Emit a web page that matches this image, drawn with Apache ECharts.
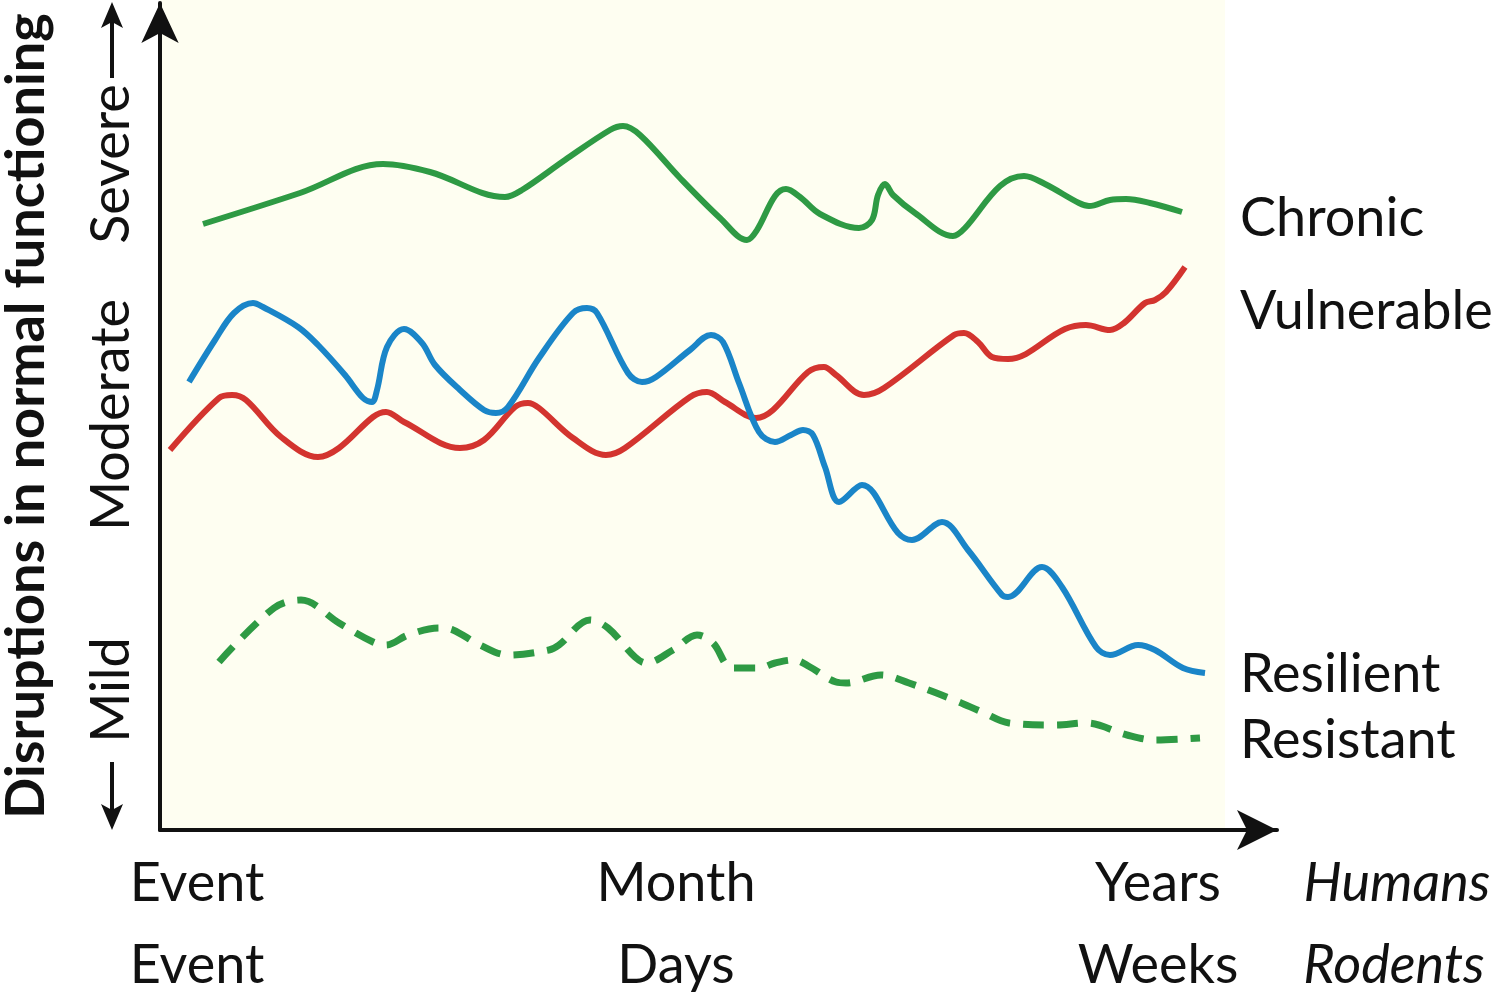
<!DOCTYPE html>
<html>
<head>
<meta charset="utf-8">
<script src="https://cdn.jsdelivr.net/npm/echarts@6/dist/echarts.min.js"></script>
<style>
html,body{margin:0;padding:0;background:#fff;}
#c{width:1500px;height:992px;}
</style>
</head>
<body>
<div id="c"></div>
<script>
// Data in chart units (x: time from the y-axis, y: severity above the x-axis)
const chronic = [[43,606],[140,637],[223,666],[270,658],[345,633],[362,640],[405,670],[450,700],[463,704],[480,695],[520,652],[560,612],[587,590],[597,600],[615,634],[626,641],[640,633],[660,616],[699,602],[712,610],[718,635],[725,646],[733,635],[755,617],[793,594],[805,602],[840,644],[864,654],[885,646],[919,627],[929,624],[950,630],[966,631],[990,627],[1022,618]];
const vulnerable = [[10,380],[59,432],[72,435],[86,430],[121,393],[158,373],[179,382],[213,413],[226,418],[244,408],[300,382],[324,390],[355,423],[368,427],[379,422],[413,392],[446,375],[465,382],[530,433],[547,438],[565,428],[596,412],[613,420],[648,458],[664,463],[676,455],[704,435],[724,442],[794,495],[804,497],[818,488],[832,473],[848,471],[905,501],[926,505],[950,500],[964,507],[985,527],[995,530],[1006,538],[1025,563]];
const resilient = [[29,448],[55,490],[74,517],[93,527],[103,523],[138,503],[158,485],[185,455],[203,432],[212,428],[217,440],[227,483],[244,501],[262,487],[275,465],[300,440],[324,420],[336,417],[348,423],[379,472],[413,517],[427,522],[437,517],[468,457],[482,448],[496,453],[530,480],[551,495],[563,488],[579,447],[599,398],[615,388],[631,395],[643,400],[653,395],[665,363],[679,328],[702,345],[738,297],[752,290],[782,308],[808,280],[842,235],[848,233],[882,263],[902,243],[936,183],[950,175],[978,185],[995,180],[1023,162],[1045,157]];
const resistant = [[59,168],[114,222],[141,230],[179,207],[213,188],[226,185],[248,195],[279,202],[293,200],[320,185],[348,175],[389,180],[399,185],[430,210],[448,202],[475,173],[486,167],[513,180],[537,195],[553,187],[572,162],[599,162],[615,167],[634,170],[650,163],[676,148],[686,147],[721,155],[749,147],[794,130],[822,118],[849,107],[895,105],[926,107],[967,95],[995,90],[1040,92]];

const seriesNames = ['Chronic','Vulnerable','Resilient','Resistant'];
const humansTicks = ['Event','Month','Years'];
const rodentsTicks = ['Event','Days','Weeks'];
const speciesLabels = ['Humans','Rodents'];
const severityLabels = ['Mild','Moderate','Severe'];
const yTitle = 'Disruptions in normal functioning';

const GREEN = '#2e9a44', BLUE = '#1a85c8', RED = '#d3342f', INK = '#111111';
const FONT = 'Lato, "Open Sans", sans-serif';
const FS = 54;

const chart = echarts.init(document.getElementById('c'), null, {renderer:'canvas'});

function txt(text, x, y, opts) {
  return Object.assign({
    type:'text', x:x, y:y, z:10,
    style:Object.assign({text:text, fill:INK, font:FS + 'px ' + FONT, align:'center', verticalAlign:'middle'}, (opts||{}).style||{})
  }, (opts||{}).extra||{});
}

const graphics = [
  {type:'rect', shape:{x:160,y:0,width:1065,height:830}, style:{fill:'#fefef1'}, z:-10, silent:true},
  // series labels
  txt(seriesNames[0], 1240, 219, {style:{align:'left'}}),
  txt(seriesNames[1], 1240, 312, {style:{align:'left'}}),
  txt(seriesNames[2], 1240, 675, {style:{align:'left'}}),
  txt(seriesNames[3], 1240, 741, {style:{align:'left'}}),
  // time labels
  txt(humansTicks[0], 197, 884), txt(humansTicks[1], 676, 884), txt(humansTicks[2], 1158, 884),
  txt(rodentsTicks[0], 197, 966), txt(rodentsTicks[1], 676, 966), txt(rodentsTicks[2], 1158, 966),
  txt(speciesLabels[0], 1397, 884, {style:{font:'italic ' + FS + 'px ' + FONT}}),
  txt(speciesLabels[1], 1394, 966, {style:{font:'italic ' + FS + 'px ' + FONT}}),
  // y title and severity labels
  txt(yTitle, 27, 416, {style:{font:'bold 54px ' + FONT}, extra:{rotation:Math.PI/2}}),
  txt(severityLabels[0], 112, 690, {extra:{rotation:Math.PI/2}}),
  txt(severityLabels[1], 112, 415, {extra:{rotation:Math.PI/2}}),
  txt(severityLabels[2], 112, 164, {extra:{rotation:Math.PI/2}}),
  // severity arrows
  {type:'line', shape:{x1:112,y1:78,x2:112,y2:20}, style:{stroke:INK, lineWidth:4}},
  {type:'polygon', shape:{points:[[112,2],[101,28],[112,22],[123,28]]}, style:{fill:INK}},
  {type:'line', shape:{x1:112,y1:762,x2:112,y2:812}, style:{stroke:INK, lineWidth:4}},
  {type:'polygon', shape:{points:[[112,830],[101,804],[112,810],[123,804]]}, style:{fill:INK}}
];

function line(name, data, color, dashed) {
  return {
    name:name, type:'line', data:data, smooth:0.35, showSymbol:false, symbol:'none',
    lineStyle:{color:color, width: dashed ? 7 : 6, type: dashed ? [21,13] : 'solid', cap:'butt', join:'round'},
    z:3, silent:true, animation:false
  };
}

chart.setOption({
  animation:false,
  backgroundColor:'#ffffff',
  grid:{left:160, right:223, top:3, bottom:162, containLabel:false},
  xAxis:{type:'value', min:0, max:1117,
    axisLine:{show:true, onZero:false, symbol:['none','arrow'], symbolSize:[30,40], lineStyle:{color:INK, width:4}},
    axisTick:{show:false}, axisLabel:{show:false}, splitLine:{show:false}},
  yAxis:{type:'value', min:0, max:827,
    axisLine:{show:true, onZero:false, symbol:['none','arrow'], symbolSize:[28,40], lineStyle:{color:INK, width:4}},
    axisTick:{show:false}, axisLabel:{show:false}, splitLine:{show:false}},
  graphic:graphics,
  series:[
    line(seriesNames[0], chronic, GREEN, false),
    line(seriesNames[1], vulnerable, RED, false),
    line(seriesNames[2], resilient, BLUE, false),
    line(seriesNames[3], resistant, GREEN, true)
  ]
});
</script>
</body>
</html>
